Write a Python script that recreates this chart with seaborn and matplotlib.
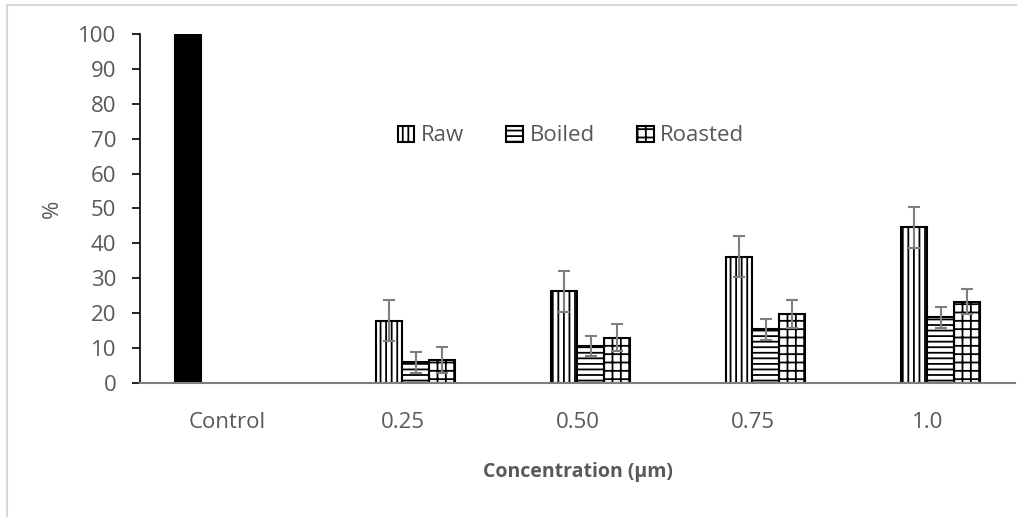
import matplotlib
matplotlib.use('Agg')
import matplotlib.pyplot as plt
from matplotlib.lines import Line2D
import numpy as np
import pandas as pd
import seaborn as sns

# ── Data ─────────────────────────────────────────────────────────────────────
CATEGORIES = ['Control', '0.25', '0.50', '0.75', '1.0']
SERIES     = ['Control', 'Raw', 'Boiled', 'Roasted']

CONTROL     = [100.0]
RAW         = [17.8, 26.3, 36.2, 44.6]
BOILED      = [6.0, 10.6, 15.4, 18.9]
ROASTED     = [6.6, 13.0, 19.8, 23.3]

RAW_ERR     = [5.9, 5.9, 5.9, 5.9]
BOILED_ERR  = [3.0, 2.8, 3.0, 3.0]
ROASTED_ERR = [3.8, 3.8, 4.0, 3.5]

# ── Style ────────────────────────────────────────────────────────────────────
TXT  = '#595959'
GRAY = '#7f7f7f'
sns.set_theme(style='white')
plt.rcParams['font.family'] = ['Open Sans', 'DejaVu Sans']
plt.rcParams['hatch.linewidth'] = 1.3
plt.rcParams['hatch.color'] = 'black'

rows = [('Control', 'Control', CONTROL[0])]
for s, vals in [('Raw', RAW), ('Boiled', BOILED), ('Roasted', ROASTED)]:
    for c, v in zip(CATEGORIES[1:], vals):
        rows.append((c, s, v))
df = pd.DataFrame(rows, columns=['conc', 'series', 'value'])

fig = plt.figure(figsize=(10.17, 5.17), dpi=100)
ax = fig.add_axes([0.13766, 0.25919, 0.86037, 0.67505])

pal = {'Control': 'black', 'Raw': 'white', 'Boiled': 'white', 'Roasted': 'white'}
sns.barplot(data=df, x='conc', y='value', hue='series', order=CATEGORIES,
            hue_order=SERIES, palette=pal, saturation=1, width=0.6,
            edgecolor='black', linewidth=1.5, errorbar=None, legend=False, ax=ax)

# hatches + error bars per series
hatches = {'Control': '', 'Raw': '|||', 'Boiled': '---', 'Roasted': '++'}
errs    = {'Raw': RAW_ERR, 'Boiled': BOILED_ERR, 'Roasted': ROASTED_ERR}
for name, cont in zip(SERIES, ax.containers):
    for b in cont:
        b.set_hatch(hatches[name])
    if name in errs:
        xs = [b.get_x() + b.get_width() / 2 for b in cont]
        ys = [b.get_height() for b in cont]
        ax.errorbar(xs, ys, yerr=errs[name], fmt='none', ecolor=GRAY,
                    elinewidth=1.5, capsize=4, capthick=1.5, zorder=5)

ax.set_xlim(-0.5, 4.5)
ax.set_ylim(0, 100)
ax.set_yticks(np.arange(0, 101, 10))

for s in ['top', 'right']:
    ax.spines[s].set_visible(False)
ax.spines['left'].set_color('black')
ax.spines['left'].set_linewidth(1.2)
ax.spines['bottom'].set_color(GRAY)
ax.spines['bottom'].set_linewidth(1.5)

ax.tick_params(axis='y', left=True, length=6, width=1.2, color='black',
               pad=11, labelsize=16, labelcolor=TXT)
ax.tick_params(axis='x', bottom=False, length=0, pad=21,
               labelsize=16, labelcolor=TXT)

ax.set_xlabel('Concentration (μm)', fontsize=14, fontweight='bold',
              color=TXT, labelpad=21)
ax.set_ylabel('%', fontsize=16, color=TXT, labelpad=11)

ax.legend(handles=list(ax.containers[1:]), labels=SERIES[1:],
          loc='center', bbox_to_anchor=(0.4926, 0.708), ncol=3, frameon=False,
          fontsize=16, labelcolor=TXT, handlelength=0.75, handleheight=0.75,
          handletextpad=0.3, columnspacing=1.9)

# thin chart-area border (left and top only are visible in the picture)
fig.add_artist(Line2D([7 / 1017, 7 / 1017], [0, 1 - 5 / 517],
                      transform=fig.transFigure, color='#d9d9d9', lw=1.5))
fig.add_artist(Line2D([7 / 1017, 1], [1 - 5 / 517, 1 - 5 / 517],
                      transform=fig.transFigure, color='#d9d9d9', lw=1.5))

fig.savefig('out.png', dpi=100)
plt.close()
